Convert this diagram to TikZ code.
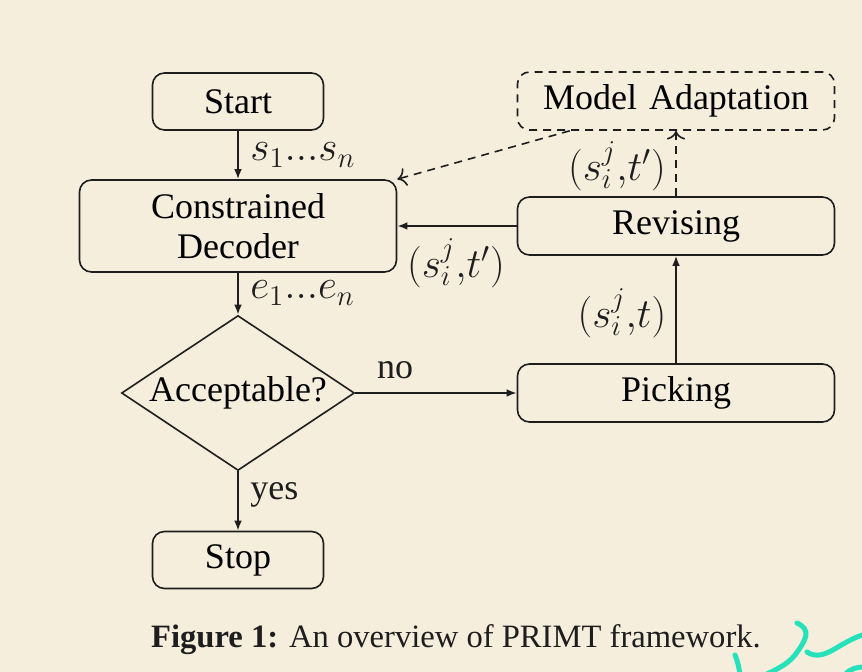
\documentclass[tikz,border=0pt]{standalone}
\usepackage{fontspec}
\setmainfont{Liberation Serif}
\usetikzlibrary{shapes.geometric,arrows.meta}
\definecolor{bgcol}{RGB}{245,238,221}
\definecolor{inkcol}{RGB}{30,30,30}
\definecolor{squig}{RGB}{38,226,186}
\begin{document}
\begin{tikzpicture}[x=0.5pt,y=-0.5pt,
  font=\fontsize{18}{21}\selectfont,
  box/.style={draw=inkcol,line width=0.8pt,rounded corners=6pt,align=center,inner sep=0pt},
  smallbox/.style={box,minimum width=85.5pt,minimum height=28.5pt},
  widebox/.style={box,minimum width=158.5pt,minimum height=29pt},
  decision/.style={draw=inkcol,line width=0.8pt,diamond,shape aspect=1.5,inner sep=0pt,minimum width=116.5pt,minimum height=77.5pt},
  flow/.style={draw=inkcol,line width=0.8pt,-{Latex[length=5pt,width=3.8pt]}},
  dashpat/.style={dash pattern=on 4pt off 3pt},
  dflow/.style={draw=inkcol,line width=0.8pt,dashpat,-{To[scale=1.3]}},
  lbl/.style={inner sep=0pt,text=inkcol},
  mlbl/.style={lbl,font=\fontsize{19.5}{23}\selectfont}]
\fill[bgcol] (0,0) rectangle (862,672);
\useasboundingbox (0,0) rectangle (862,672);

\node[smallbox] (start) at (238,101.5) {Start};
\node[box,minimum width=158.5pt,minimum height=46pt] (cd) at (238,226) {Constrained\\[-1pt]Decoder};
\node[decision] (acc) at (238,393) {Acceptable?};
\node[smallbox] (stop) at (238,560) {Stop};
\node[widebox,dashpat] (ma) at (676,101) {Model\hspace{1.5pt} Adaptation};
\node[widebox] (rev) at (676,226) {Revising};
\node[widebox] (pick) at (676,393) {Picking};

\draw[flow] (start) -- (cd);
\draw[flow] (cd) -- (acc);
\draw[flow] (acc) -- (stop);
\draw[flow] (acc) -- (pick);
\draw[flow] (pick) -- (rev);
\draw[flow] (rev) -- (cd);
\draw[dflow] (rev) -- (ma);
\draw[dflow] (ma) -- (cd.north east);

\node[mlbl,anchor=west] (l1) at (250,155) {$s_1...s_n$};
\node[mlbl,anchor=west] (l2) at (250,293) {$e_1...e_n$};
\node[lbl,anchor=west] (l3) at (250,495) {yes};
\node[lbl] (l4) at (395,370) {no};
\node[mlbl] (l5) at (622,313) {$(s_i^j{,}t)$};
\node[mlbl] (l6) at (456,263) {$(s_i^j{,}t')$};
\node[mlbl] (l7) at (617,166) {$(s_i^j{,}t')$};

\node[lbl,font=\fontsize{16.3}{19}\selectfont] (cap) at (456,640) {\textbf{Figure 1:} An overview of PRIMT framework.};

\draw[squig,line width=2.5pt,line cap=round] (797,623) .. controls (812,630) and (806,640) .. (795,655) .. controls (787,665) and (775,670) .. (765,675);
\draw[squig,line width=2.5pt,line cap=round] (807,652) .. controls (816,658) and (825,655) .. (838,647) .. controls (848,641) and (856,637) .. (865,634);
\draw[squig,line width=2.5pt,line cap=round] (735,655) .. controls (738,662) and (739,668) .. (740,675);
\draw[squig,line width=2.5pt,line cap=round] (845,675) .. controls (850,668) and (858,667) .. (865,667);
\end{tikzpicture}
\end{document}
